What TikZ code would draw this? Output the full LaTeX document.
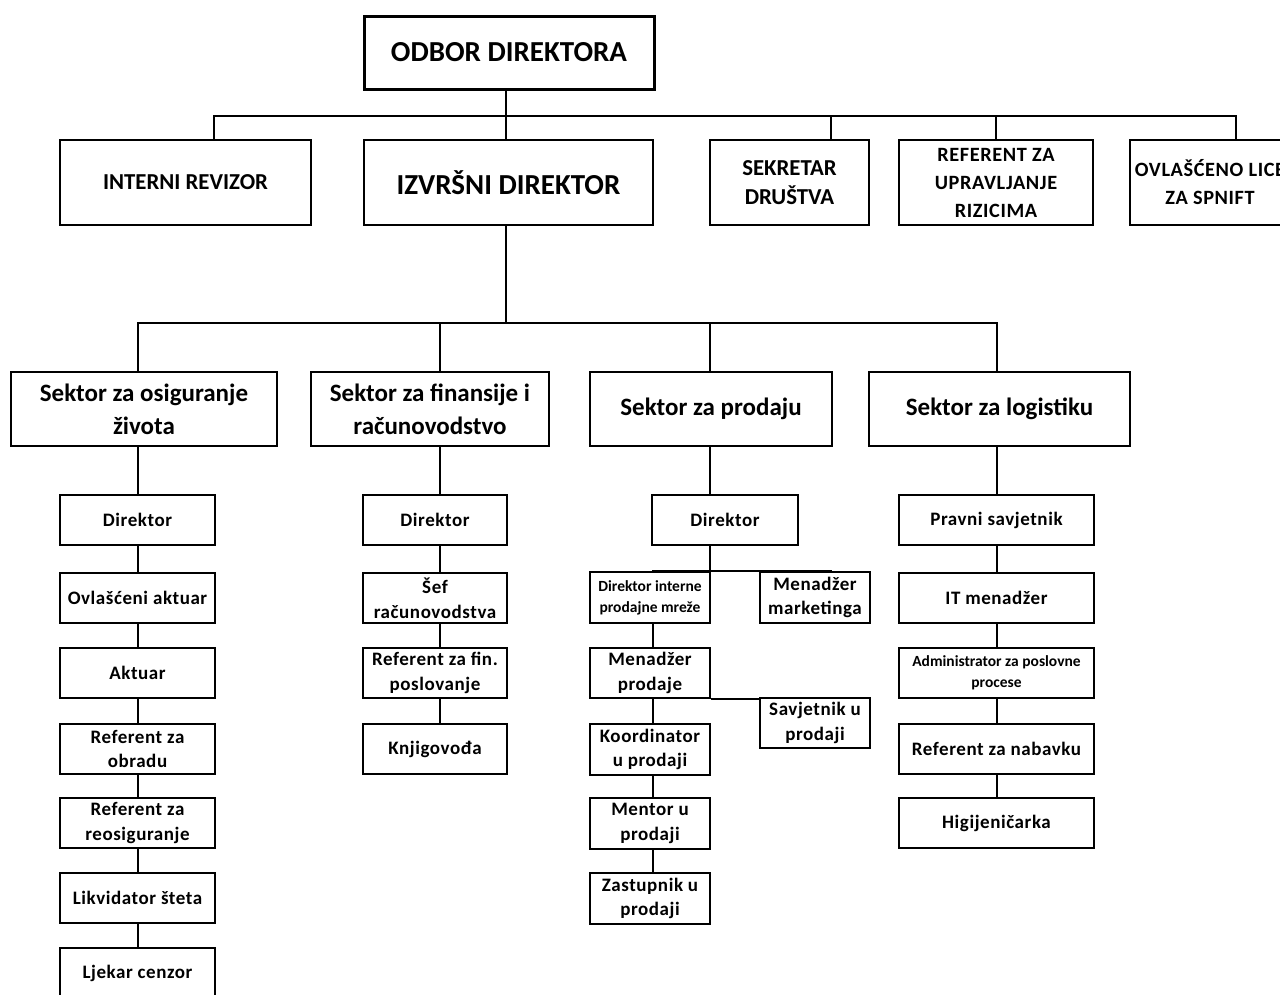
\documentclass[tikz,border=0pt]{standalone}
\usepackage{fontspec}
\setmainfont{Carlito}
\newfontfamily\spaced[LetterSpace=3]{Carlito}
\begin{document}
\begin{tikzpicture}[x=1pt,y=-1pt,
  box/.style={draw,line width=2pt,inner sep=0pt,align=center,font=\spaced\bfseries\fontsize{19}{24.5}\selectfont},
  big/.style={box,font=\bfseries\fontsize{29}{33}\selectfont},
  sect/.style={box,font=\bfseries\fontsize{25}{33}\selectfont},
  caps/.style={box,font=\bfseries\fontsize{22.8}{29}\selectfont},
  capss/.style={box,font=\spaced\bfseries\fontsize{20.3}{28}\selectfont},
  tiny/.style={box,font=\bfseries\fontsize{15.5}{21}\selectfont},
  conn/.style={line width=2pt},
  thinc/.style={line width=1.2pt}]
\useasboundingbox (0,0) rectangle (1280,994);
\clip (0,0) rectangle (1280,994);
% top level
\node[big,line width=3pt,minimum width=290pt,minimum height=73pt] (odbor) at (509,52.5) {ODBOR DIREKTORA};
\node[caps,minimum width=251pt,minimum height=85pt] (intrev) at (185.5,182.5) {INTERNI REVIZOR};
\node[big,minimum width=289pt,minimum height=85pt] (izvrs) at (508.5,182.5) {IZVRŠNI DIREKTOR};
\node[caps,minimum width=159pt,minimum height=85pt] (sekr) at (789.5,182.5) {SEKRETAR\\DRUŠTVA};
\node[capss,minimum width=194pt,minimum height=85pt] (refupr) at (996,182.5) {REFERENT ZA\\UPRAVLJANJE\\RIZICIMA};
\node[capss,minimum width=160pt,minimum height=85pt] (ovl) at (1210,182.5) {OVLAŠĆENO LICE\\ZA SPNIFT};
\coordinate (bL) at (214,116);
\coordinate (bR) at (1236,116);
\coordinate (bS) at (831,116);
\coordinate (bI) at (506,116);
\draw[conn] (bL |- intrev.north) -- (bL) -- (bR) -- (bR |- ovl.north);
\draw[conn] (bI |- odbor.south) -- (bI |- izvrs.north);
\draw[conn] (bS) -- (bS |- sekr.north);
\draw[conn] (bR -| refupr.north) -- (refupr.north);
% sectors
\node[sect,minimum width=266pt,minimum height=74pt] (osig) at (144,409) {Sektor za osiguranje\\života};
\node[sect,minimum width=238pt,minimum height=74pt] (fin) at (430,409) {Sektor za finansije i\\računovodstvo};
\node[sect,minimum width=242pt,minimum height=74pt] (prod) at (711,409) {Sektor za prodaju};
\node[sect,minimum width=261pt,minimum height=74pt] (log) at (999.5,409) {Sektor za logistiku};
\coordinate (mI) at (506,323);
\coordinate (mL) at (138,323);
\coordinate (mF) at (440,323);
\coordinate (mP) at (710,323);
\coordinate (mR) at (997,323);
\draw[conn] (mI |- izvrs.south) -- (mI);
\draw[conn] (mL |- osig.north) -- (mL) -- (mR) -- (mR |- log.north);
\draw[conn] (mF) -- (mF |- fin.north);
\draw[conn] (mP) -- (mP |- prod.north);
% column 1
\node[box,minimum width=155pt,minimum height=50pt] (a1) at (137.5,520) {Direktor};
\node[box,minimum width=155pt,minimum height=50pt] (a2) at (137.5,598) {Ovlašćeni aktuar};
\node[box,minimum width=155pt,minimum height=50pt] (a3) at (137.5,673) {Aktuar};
\node[box,minimum width=155pt,minimum height=50pt] (a4) at (137.5,749) {Referent za\\obradu};
\node[box,minimum width=155pt,minimum height=50pt] (a5) at (137.5,823) {Referent za\\reosiguranje};
\node[box,minimum width=155pt,minimum height=50pt] (a6) at (137.5,898) {Likvidator šteta};
\node[box,minimum width=155pt,minimum height=50pt] (a7) at (137.5,973) {Ljekar cenzor};
\coordinate (cA) at (138,0);
\draw[thinc] (cA |- osig.south) -- (cA |- a1.north);
\draw[conn] (cA |- a1.south) -- (cA |- a2.north);
\draw[conn] (cA |- a2.south) -- (cA |- a3.north);
\draw[conn] (cA |- a3.south) -- (cA |- a4.north);
\draw[conn] (cA |- a4.south) -- (cA |- a5.north);
\draw[conn] (cA |- a5.south) -- (cA |- a6.north);
\draw[conn] (cA |- a6.south) -- (cA |- a7.north);
% column 2
\node[box,minimum width=144pt,minimum height=50pt] (f1) at (435,520) {Direktor};
\node[box,minimum width=144pt,minimum height=50pt] (f2) at (435,598) {Šef\\računovodstva};
\node[box,minimum width=144pt,minimum height=50pt] (f3) at (435,673) {Referent za fin.\\poslovanje};
\node[box,minimum width=144pt,minimum height=50pt] (f4) at (435,749) {Knjigovođa};
\coordinate (cF) at (440,0);
\draw[conn] (cF |- fin.south) -- (cF |- f1.north);
\draw[conn] (cF |- f1.south) -- (cF |- f2.north);
\draw[conn] (cF |- f2.south) -- (cF |- f3.north);
\draw[conn] (cF |- f3.south) -- (cF |- f4.north);
% column 3
\node[box,minimum width=146pt,minimum height=50pt] (p1) at (725,520) {Direktor};
\node[tiny,minimum width=120pt,minimum height=51pt] (p2) at (650,597.5) {Direktor interne\\prodajne mreže};
\node[box,minimum width=110pt,minimum height=51pt] (p3) at (815,597.5) {Menadžer\\marketinga};
\node[box,minimum width=120pt,minimum height=50pt] (p4) at (650,673) {Menadžer\\prodaje};
\node[box,minimum width=110pt,minimum height=50pt] (p5) at (815,723) {Savjetnik u\\prodaji};
\node[box,minimum width=120pt,minimum height=51pt] (p6) at (650,749.5) {Koordinator\\u prodaji};
\node[box,minimum width=120pt,minimum height=51pt] (p7) at (650,823.5) {Mentor u\\prodaji};
\node[box,minimum width=120pt,minimum height=51pt] (p8) at (650,898.5) {Zastupnik u\\prodaji};
\coordinate (cP) at (710,0);
\coordinate (cQ) at (653,0);
\coordinate (hL) at (652,571);
\coordinate (hR) at (832,571);
\draw[thinc] (cP |- prod.south) -- (cP |- p1.north);
\draw[thinc] (cP |- p1.south) -- (cP |- hL);
\draw[line width=2pt] (hL) -- (hR);
\draw[conn] (cQ |- p2.south) -- (cQ |- p4.north);
\draw[thinc] (p4.south east) -- (p4.south east -| p5.west);
\draw[conn] (cQ |- p4.south) -- (cQ |- p6.north);
\draw[thinc] (cQ |- p6.south) -- (cQ |- p7.north);
\draw[thinc] (cQ |- p7.south) -- (cQ |- p8.north);
% column 4
\node[box,minimum width=195pt,minimum height=50pt] (l1) at (996.5,520) {Pravni savjetnik};
\node[box,minimum width=195pt,minimum height=50pt] (l2) at (996.5,598) {IT menadžer};
\node[tiny,minimum width=195pt,minimum height=50pt] (l3) at (996.5,673) {Administrator za poslovne\\procese};
\node[box,minimum width=195pt,minimum height=50pt] (l4) at (996.5,749) {Referent za nabavku};
\node[box,minimum width=195pt,minimum height=50pt] (l5) at (996.5,823) {Higijeničarka};
\coordinate (cL) at (997,0);
\draw[conn] (cL |- log.south) -- (cL |- l1.north);
\draw[conn] (cL |- l1.south) -- (cL |- l2.north);
\draw[conn] (cL |- l2.south) -- (cL |- l3.north);
\draw[conn] (cL |- l3.south) -- (cL |- l4.north);
\draw[thinc] (cL |- l4.south) -- (cL |- l5.north);
\end{tikzpicture}
\end{document}
